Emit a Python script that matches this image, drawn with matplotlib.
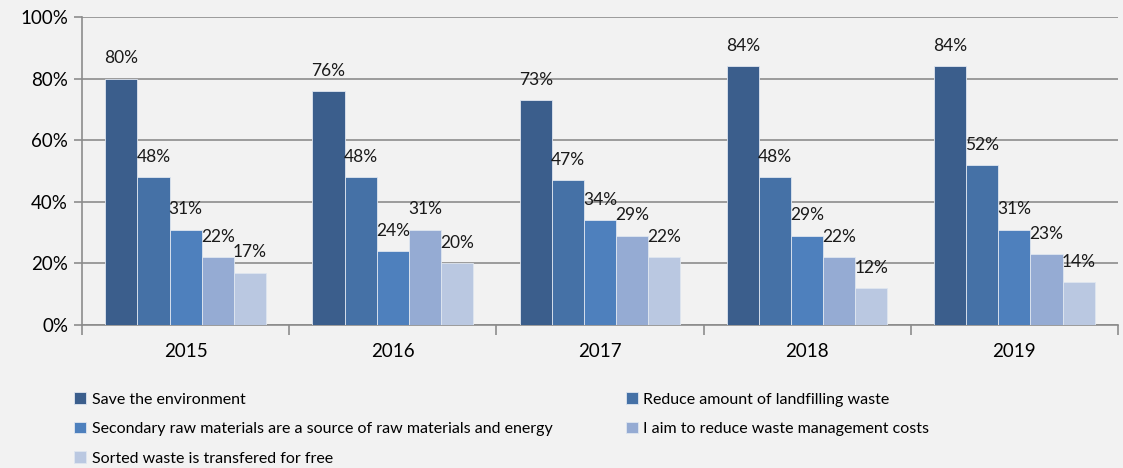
import matplotlib.pyplot as plt
import numpy as np

# Data
years = ['2015', '2016', '2017', '2018', '2019']
series_names = ['Save the environment',
                'Reduce amount of landfilling waste',
                'Secondary raw materials are a source of raw materials and energy',
                'I aim to reduce waste management costs',
                'Sorted waste is transfered for free']
save_env = [80, 76, 73, 84, 84]
reduce_landfill = [48, 48, 47, 48, 52]
secondary_raw = [31, 24, 34, 29, 31]
reduce_costs = [22, 31, 29, 22, 23]
free_transfer = [17, 20, 22, 12, 14]
values = [save_env, reduce_landfill, secondary_raw, reduce_costs, free_transfer]
colors = ['#3b5e8c', '#4571a6', '#4e80bd', '#95abd3', '#bac8e1']

plt.rcParams['font.family'] = ['Lato', 'DejaVu Sans']
bg = '#f2f2f2'
grid_c = '#8c8c8c'

fig = plt.figure(figsize=(11.23, 4.68), dpi=100, facecolor=bg)
ax = fig.add_axes([0.073, 0.3056, 0.9225, 0.658])
ax.set_facecolor(bg)

x = np.arange(len(years))
bw = 0.155
handles = []
for i, (vals, c) in enumerate(zip(values, colors)):
    pos = x + (i - 2) * bw
    b = ax.bar(pos, vals, bw, color=c, edgecolor='#dfe6f0', linewidth=0.6,
               zorder=3, label=series_names[i])
    handles.append(b)
    for p, v in zip(pos, vals):
        ax.text(p, v + 4, f'{v}%', ha='center', va='bottom', fontsize=12.5,
                color='#1a1a1a', zorder=4)

ax.set_xlim(-0.5, len(years) - 0.5)
ax.set_ylim(0, 100)
ax.set_yticks(range(0, 101, 20))
ax.set_yticklabels([f'{t}%' for t in range(0, 101, 20)], fontsize=13.5)
ax.yaxis.grid(True, color=grid_c, linewidth=1.2, zorder=0)
ax.tick_params(axis='y', length=6, color=grid_c, width=1.2, pad=4)

ax.set_xticks(x)
ax.set_xticklabels(years, fontsize=13.5)
ax.set_xticks(np.arange(-0.5, len(years)), minor=True)
ax.tick_params(axis='x', which='major', length=0, pad=13)
ax.tick_params(axis='x', which='minor', length=7, color=grid_c, width=1.2)

for s in ['top', 'right']:
    ax.spines[s].set_visible(False)
for s in ['left', 'bottom']:
    ax.spines[s].set_color(grid_c)
    ax.spines[s].set_linewidth(1.2)

order = [0, 2, 4, 1, 3]
leg = fig.legend([handles[i] for i in order], [series_names[i] for i in order],
                 ncol=2, loc='upper left', bbox_to_anchor=(0.066, 0.162),
                 frameon=False, fontsize=11.5, handlelength=0.75, handleheight=0.75,
                 handletextpad=0.35, labelspacing=0.95, columnspacing=4.6,
                 borderpad=0, borderaxespad=0)

fig.savefig('out.png', dpi=100, facecolor=bg)
